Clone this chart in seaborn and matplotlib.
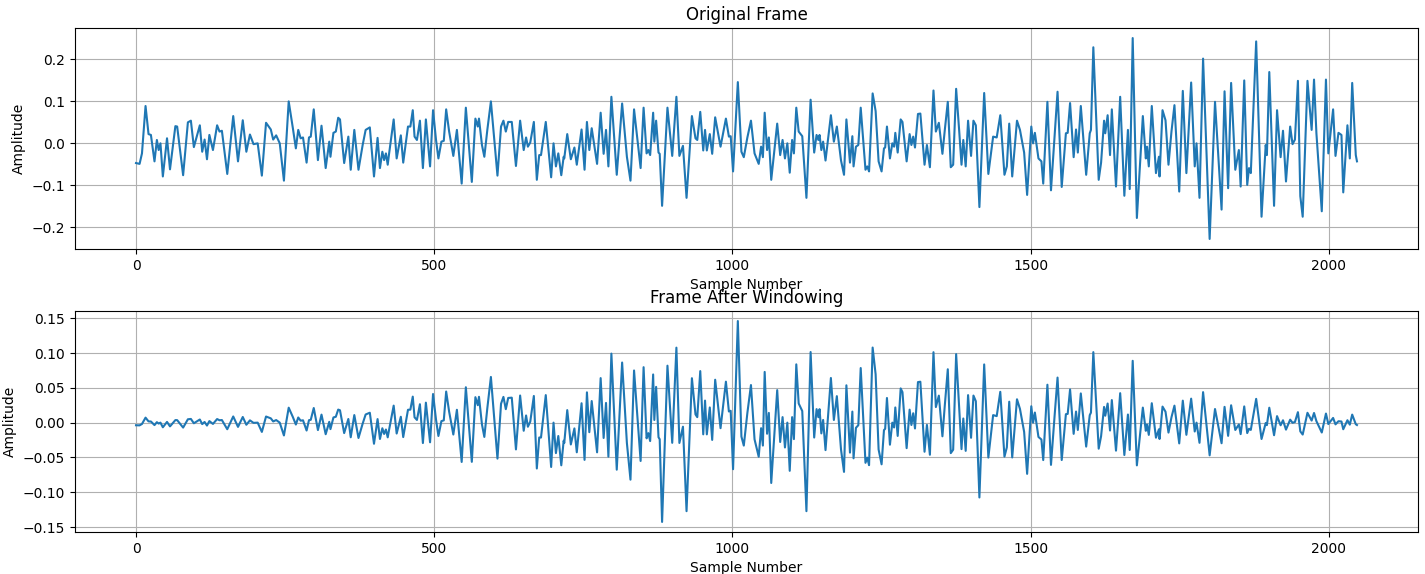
import numpy as np
import pandas as pd
import matplotlib
matplotlib.use("Agg")
import matplotlib.pyplot as plt
import seaborn as sns

FRAME_LEN = 2048

# Turning points of the original frame: sample index and amplitude
sample_idx = [
    0, 6, 10, 16, 21, 25, 31, 35, 38, 41, 45, 52, 57, 66, 69, 79, 87, 92, 97, 101,
    107, 111, 115, 119, 123, 129, 136, 140, 144, 153, 163, 171, 179, 185, 191, 197,
    204, 211, 218, 226, 230, 235, 241, 248, 256, 263, 268, 272, 276, 280, 286, 290,
    293, 298, 305, 311, 318, 324, 326, 331, 335, 339, 342, 349, 356, 360, 366, 373,
    380, 385, 392, 399, 405, 409, 413, 416, 419, 422, 424, 432, 437, 444, 448, 456,
    460, 464, 467, 471, 476, 481, 486, 493, 498, 503, 507, 512, 516, 520, 525, 532,
    538, 546, 553, 563, 569, 573, 575, 580, 584, 589, 595, 606, 612, 616, 620, 624,
    630, 637, 644, 650, 654, 657, 661, 667, 672, 676, 679, 687, 696, 700, 704, 708,
    713, 717, 718, 723, 729, 735, 739, 747, 752, 756, 760, 764, 773, 779, 784, 788,
    792, 797, 806, 815, 823, 829, 835, 846, 851, 856, 859, 862, 867, 869, 872, 876,
    878, 882, 891, 899, 906, 911, 917, 923, 932, 938, 941, 946, 951, 954, 957, 962,
    966, 971, 980, 989, 994, 997, 1001, 1009, 1015, 1019, 1025, 1031, 1037, 1044,
    1048, 1051, 1054, 1058, 1061, 1065, 1075, 1080, 1084, 1088, 1092, 1096, 1100,
    1103, 1107, 1111, 1117, 1124, 1131, 1137, 1141, 1144, 1146, 1149, 1152, 1156,
    1165, 1170, 1175, 1182, 1187, 1191, 1197, 1201, 1203, 1207, 1211, 1215, 1223,
    1226, 1229, 1235, 1240, 1245, 1250, 1254, 1256, 1259, 1264, 1268, 1271, 1273,
    1277, 1282, 1285, 1292, 1297, 1300, 1303, 1306, 1311, 1315, 1322, 1326, 1331,
    1337, 1341, 1346, 1352, 1356, 1361, 1366, 1370, 1375, 1380, 1384, 1387, 1391,
    1395, 1400, 1404, 1408, 1414, 1422, 1429, 1437, 1443, 1449, 1456, 1460, 1464,
    1469, 1477, 1482, 1489, 1494, 1501, 1504, 1507, 1513, 1518, 1521, 1528, 1534,
    1540, 1545, 1552, 1559, 1562, 1566, 1572, 1576, 1579, 1584, 1593, 1599, 1601,
    1605, 1614, 1618, 1623, 1625, 1629, 1633, 1636, 1643, 1650, 1657, 1663, 1666,
    1671, 1678, 1688, 1693, 1695, 1698, 1703, 1710, 1715, 1716, 1721, 1726, 1731,
    1736, 1741, 1749, 1755, 1761, 1769, 1775, 1778, 1783, 1789, 1800, 1809, 1820,
    1825, 1831, 1836, 1843, 1849, 1852, 1858, 1863, 1866, 1869, 1878, 1887, 1894,
    1896, 1900, 1908, 1913, 1919, 1923, 1928, 1935, 1939, 1943, 1948, 1952, 1956,
    1964, 1971, 1975, 1979, 1988, 1995, 1999, 2007, 2011, 2016, 2021, 2024, 2031,
    2035, 2039, 2045, 2047,
]

amplitude = [
    -0.047, -0.049, -0.024, 0.089, 0.022, 0.020, -0.043, 0.008, -0.016, 0.000,
    -0.079, 0.012, -0.062, 0.041, 0.040, -0.076, 0.050, 0.054, -0.009, 0.012,
    0.043, -0.020, 0.009, -0.038, 0.020, -0.016, 0.043, 0.028, 0.030, -0.073,
    0.065, -0.043, 0.055, -0.020, 0.021, -0.002, 0.000, -0.077, 0.049, 0.033,
    0.009, 0.019, 0.000, -0.089, 0.100, 0.036, -0.012, 0.032, 0.012, 0.014,
    -0.046, 0.014, 0.016, 0.081, -0.040, 0.042, -0.059, 0.004, -0.032, 0.025,
    0.028, 0.061, 0.057, -0.047, 0.016, -0.063, 0.032, -0.063, -0.004, 0.032,
    0.038, -0.079, 0.013, -0.059, -0.020, -0.040, -0.024, -0.051, -0.028, 0.057,
    -0.036, 0.019, -0.046, 0.040, 0.040, 0.079, 0.016, 0.008, 0.054, -0.059,
    0.057, -0.055, 0.079, 0.008, -0.036, 0.004, 0.006, 0.081, 0.028, -0.030,
    0.032, -0.096, 0.085, -0.092, 0.059, 0.040, 0.059, -0.004, -0.032, 0.032,
    0.100, -0.077, 0.040, 0.054, 0.028, 0.051, 0.051, -0.054, 0.054, -0.016,
    0.014, -0.008, 0.002, 0.051, -0.087, -0.028, -0.028, 0.051, -0.081, 0.000,
    -0.055, -0.024, -0.076, -0.032, -0.036, 0.022, -0.038, -0.010, -0.051, 0.033,
    -0.063, 0.051, -0.016, 0.036, -0.049, 0.073, -0.025, 0.032, -0.055, 0.111,
    -0.075, 0.095, -0.032, -0.089, 0.081, -0.059, 0.085, -0.024, -0.016, -0.028,
    0.073, 0.004, 0.054, -0.022, -0.025, -0.149, 0.085, -0.030, 0.111, -0.030,
    -0.006, -0.130, 0.065, 0.012, 0.008, 0.075, -0.017, 0.032, -0.017, 0.022,
    -0.025, 0.062, -0.008, 0.059, 0.016, 0.017, -0.067, 0.146, -0.020, -0.033,
    0.014, 0.054, -0.024, -0.049, -0.008, -0.033, 0.073, -0.016, 0.014, -0.087,
    0.047, -0.028, 0.008, -0.036, 0.000, -0.070, 0.008, -0.024, 0.085, 0.028,
    0.017, -0.130, 0.104, -0.022, 0.020, 0.008, 0.020, -0.016, 0.004, -0.041,
    0.067, 0.004, 0.040, -0.041, -0.075, 0.057, -0.046, 0.017, -0.055, -0.008,
    -0.004, 0.085, -0.063, -0.055, -0.067, 0.119, 0.077, -0.043, -0.067, -0.012,
    -0.010, 0.040, -0.036, 0.000, -0.008, 0.025, -0.022, 0.057, 0.051, -0.043,
    0.022, -0.004, 0.016, -0.010, 0.070, 0.071, -0.051, -0.004, -0.057, 0.126,
    0.028, 0.049, -0.025, 0.032, 0.099, -0.057, -0.051, 0.130, 0.032, -0.051,
    0.008, -0.055, 0.054, -0.030, 0.054, 0.043, -0.152, 0.120, -0.073, 0.016,
    0.014, 0.067, -0.075, -0.055, 0.047, -0.079, 0.054, 0.032, -0.022, -0.123,
    0.040, 0.000, 0.025, -0.036, -0.043, -0.096, 0.099, -0.112, 0.017,
    0.123, -0.104, 0.024, 0.025, 0.096, -0.033, 0.033, -0.022, 0.089, -0.075,
    0.024, 0.032, 0.229, -0.087, -0.046, 0.054, 0.024, 0.067, -0.028, 0.081,
    -0.103, 0.111, -0.125, 0.032, -0.109, 0.251, -0.178, 0.065, -0.036, -0.008,
    -0.055, 0.089, -0.071, -0.032, -0.079, 0.079, 0.055, -0.051, 0.028, 0.091,
    -0.115, 0.125, -0.071, 0.145, -0.055, 0.000, -0.130, 0.202, -0.228, 0.099,
    -0.158, 0.124, -0.107, 0.144, -0.063, -0.016, -0.103, 0.150, -0.099, -0.059,
    -0.071, 0.243, -0.175, -0.004, -0.028, 0.170, -0.149, 0.079, -0.033, 0.030,
    -0.091, 0.040, -0.002, 0.009, 0.149, -0.126, -0.175, 0.149, 0.032, 0.152,
    0.024, -0.162, 0.152, -0.024, 0.081, -0.030, 0.025, 0.020, -0.117, 0.043,
    -0.036, 0.144, -0.028, -0.043,
]

titles = ["Original Frame", "Frame After Windowing"]
x_label = "Sample Number"
y_label = "Amplitude"

samples = np.asarray(sample_idx)
original = np.asarray(amplitude)

# Hamming window applied to the frame
window = np.hamming(FRAME_LEN)
windowed = original * window[samples]

frames = [
    pd.DataFrame({"sample": samples, "amp": original}),
    pd.DataFrame({"sample": samples, "amp": windowed}),
]

plt.rcParams["font.family"] = ["DejaVu Sans"]
fig = plt.figure(figsize=(14.25, 5.74), dpi=100)
axes = [
    fig.add_axes([0.0526, 0.5662, 0.9425, 0.3850]),
    fig.add_axes([0.0526, 0.0732, 0.9425, 0.3850]),
]

for ax, df, title in zip(axes, frames, titles):
    sns.lineplot(data=df, x="sample", y="amp", ax=ax, color="#1f77b4",
                 linewidth=1.5, sort=False)
    ax.set_title(title, fontsize=12)
    ax.set_xlabel(x_label, fontsize=10)
    ax.set_ylabel(y_label, fontsize=10)
    ax.grid(True)
    ax.set_xticks([0, 500, 1000, 1500, 2000])

axes[1].set_yticks([-0.15, -0.10, -0.05, 0.00, 0.05, 0.10, 0.15])

fig.savefig("out.png", dpi=100)
